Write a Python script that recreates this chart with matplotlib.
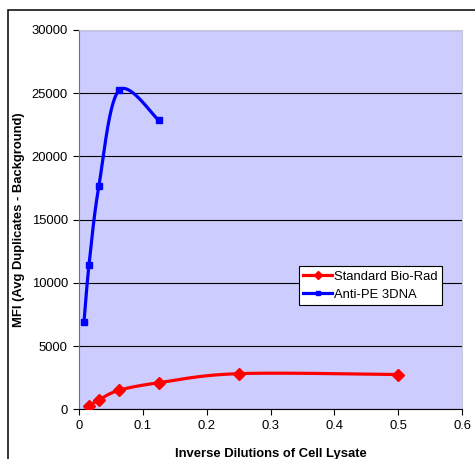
import numpy as np
import matplotlib.pyplot as plt
from matplotlib.patches import Rectangle

plt.rcParams['font.family'] = ['Liberation Sans', 'DejaVu Sans']

# inverse dilutions and MFI values
std_x = [1 / 64, 1 / 32, 1 / 16, 1 / 8, 1 / 4, 1 / 2]
std_y = [300, 750, 1500, 2100, 2820, 2750]
dna_x = [1 / 128, 1 / 64, 1 / 32, 1 / 16, 1 / 8]
dna_y = [6870, 11400, 17700, 25220, 22860]

x_ticks = [0, 0.1, 0.2, 0.3, 0.4, 0.5, 0.6]
y_ticks = [0, 5000, 10000, 15000, 20000, 25000, 30000]


def smooth(xs, ys, sx, sy, n=40):
	"""
	Bezier smoothing through the points (like a spreadsheet 'smoothed line'),
	done in scaled coordinates so the curve looks right on screen
	"""
	p = np.column_stack([np.array(xs) * sx, np.array(ys) * sy])
	p = np.vstack([p[0], p, p[-1]])
	t = np.linspace(0, 1, n)[:, None]
	out = []
	for i in range(1, len(p) - 2):
		p0, p1, p2, p3 = p[i - 1], p[i], p[i + 1], p[i + 2]
		c1 = p1 + (p2 - p0) / 6
		c2 = p2 - (p3 - p1) / 6
		seg = (1 - t) ** 3 * p1 + 3 * (1 - t) ** 2 * t * c1 + 3 * (1 - t) * t ** 2 * c2 + t ** 3 * p2
		out.append(seg)
	out = np.vstack(out)
	return out[:, 0] / sx, out[:, 1] / sy


fig = plt.figure(figsize=(4.75, 4.59), dpi=100)
ax = fig.add_axes([79 / 475, 49.7 / 459, 383 / 475, 379.3 / 459])
ax.set_facecolor('#ccccff')

sx, sy = 383 / 0.6, 379.3 / 30000

for xs, ys, col, mk, ms, lab in [(std_x, std_y, '#ff0000', 'D', 6, 'Standard Bio-Rad'),
                                 (dna_x, dna_y, '#0000ff', 's', 5, 'Anti-PE 3DNA')]:
	cx, cy = smooth(xs, ys, sx, sy)
	ax.plot(cx, cy, color=col, lw=2.3, zorder=3, solid_capstyle='round')
	ax.plot(xs, ys, ls='none', marker=mk, ms=ms, color=col, zorder=4)
	# legend entry with smaller marker
	ax.plot([], [], color=col, lw=2.3, marker=mk, ms=ms - 1.5, label=lab)

ax.set_xlim(0, 0.6)
ax.set_ylim(0, 30000)
ax.set_xticks(x_ticks)
ax.set_xticklabels(['0', '0.1', '0.2', '0.3', '0.4', '0.5', '0.6'])
ax.set_yticks(y_ticks)
ax.yaxis.grid(True, color='black', lw=0.8)
ax.set_axisbelow(True)
ax.tick_params(labelsize=9.4, length=4, width=0.8, pad=4, colors='black')

ax.spines['left'].set_color('#707070')
ax.spines['bottom'].set_color('black')
for s in ['top', 'right']:
	ax.spines[s].set_color('#c8c8d8')
for s in ax.spines.values():
	s.set_linewidth(0.8)

ax.set_xlabel('Inverse Dilutions of Cell Lysate', fontsize=9.4, fontweight='bold', labelpad=11)
ax.set_ylabel('MFI (Avg Duplicates - Background)', fontsize=9.4, fontweight='bold', labelpad=5)

leg = ax.legend(loc='upper left', bbox_to_anchor=(0.574, 0.378), borderaxespad=0,
				fontsize=9.4, frameon=True, fancybox=False, handlelength=2.2,
				handletextpad=0.15, borderpad=0.35, labelspacing=0.45)
leg.get_frame().set_edgecolor('black')
leg.get_frame().set_linewidth(0.8)
leg.get_frame().set_alpha(1)

# chart area border
fig.patches.append(Rectangle((7.5 / 475, -0.2), 1.5, 1.2 - 10.5 / 459, transform=fig.transFigure,
							 fill=False, edgecolor='black', lw=1.1, clip_on=False))

plt.savefig('out.png', dpi=100, facecolor='white')
